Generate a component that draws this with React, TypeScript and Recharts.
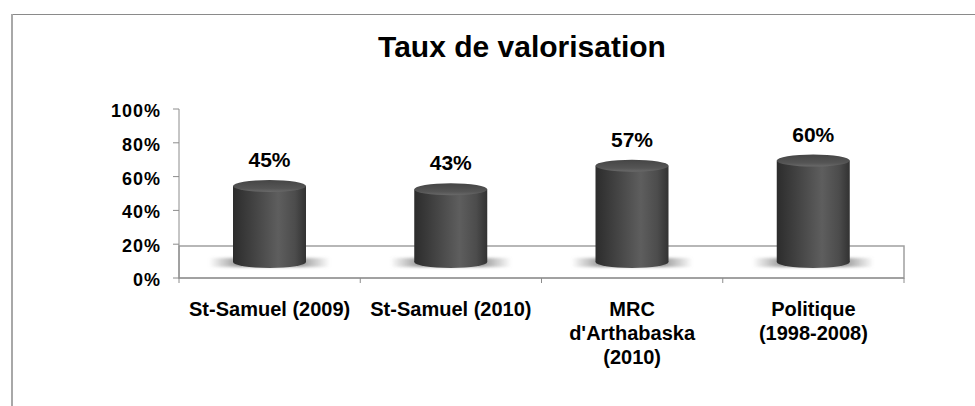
import React from 'react';
import { BarChart, Bar, XAxis, YAxis, ReferenceArea, LabelList } from 'recharts';

const title = 'Taux de valorisation';
const categories = ['St-Samuel (2009)', 'St-Samuel (2010)', "MRC\nd'Arthabaska\n(2010)", 'Politique\n(1998-2008)'];
const values = [45, 43, 57, 60];
const yTicks = [0, 20, 40, 60, 80, 100];

const data = categories.map((c, i) => ({ name: c, value: values[i] }));

const W = 975;
const H = 406;
const PLOT_LEFT = 179;
const PLOT_RIGHT = 904;
const PLOT_TOP = 109;
const PLOT_BOTTOM = 278;
const Y_AXIS_W = 80;
const X_AXIS_H = 60;
const DEPTH = 16;
const FLOOR = 19;
const FONT = '"Liberation Sans", Arial, Helvetica, sans-serif';
const AXIS_COLOR = '#8c8c8c';

function Cylinder(props: any) {
  const { x, y, width, height, index } = props;
  if (x == null || width == null) return null;
  const cx = x + width / 2;
  const rx = width / 2;
  const ry = 6;
  const top = y - DEPTH;
  const base = y + height - DEPTH;
  const id = `cyl${index}`;
  return (
    <g>
      <defs>
        <linearGradient id={`${id}body`} x1="0" x2="1" y1="0" y2="0">
          <stop offset="0" stopColor="#2c2c2c" />
          <stop offset="0.3" stopColor="#444444" />
          <stop offset="0.62" stopColor="#5e5e5e" />
          <stop offset="0.85" stopColor="#4c4c4c" />
          <stop offset="1" stopColor="#323232" />
        </linearGradient>
        <linearGradient id={`${id}top`} x1="0" x2="0" y1="0" y2="1">
          <stop offset="0" stopColor="#454545" />
          <stop offset="0.7" stopColor="#555555" />
          <stop offset="1" stopColor="#6a6a6a" />
        </linearGradient>
        <linearGradient id={`${id}shadow`} x1="0" x2="1" y1="0" y2="0">
          <stop offset="0" stopColor="#8a8a8a" stopOpacity="0" />
          <stop offset="0.25" stopColor="#8a8a8a" stopOpacity="0.9" />
          <stop offset="0.75" stopColor="#8a8a8a" stopOpacity="0.9" />
          <stop offset="1" stopColor="#8a8a8a" stopOpacity="0" />
        </linearGradient>
        <filter id={`${id}blur`} x="-20%" y="-150%" width="140%" height="400%">
          <feGaussianBlur stdDeviation="1.8" />
        </filter>
      </defs>
      <rect
        x={cx - rx - 24}
        y={base - 4}
        width={2 * rx + 48}
        height={9}
        fill={`url(#${id}shadow)`}
        filter={`url(#${id}blur)`}
      />
      <ellipse cx={cx} cy={base} rx={rx} ry={ry} fill={`url(#${id}body)`} />
      <rect x={x} y={top} width={width} height={Math.max(0, base - top)} fill={`url(#${id}body)`} />
      <ellipse cx={cx} cy={top} rx={rx} ry={ry} fill={`url(#${id}top)`} />
    </g>
  );
}

function ValueLabel(props: any) {
  const { x, y, width, value } = props;
  if (x == null) return null;
  return (
    <text
      x={x + width / 2}
      y={y - DEPTH - 19}
      textAnchor="middle"
      fontFamily={FONT}
      fontSize={21}
      fontWeight="bold"
      fill="#000"
    >
      {`${value}%`}
    </text>
  );
}

function YTick(props: any) {
  const { x, y, payload } = props;
  return (
    <text
      x={x}
      y={y}
      dy={8}
      textAnchor="end"
      fontFamily={FONT}
      fontSize={18}
      fontWeight="bold"
      letterSpacing={1}
      fill="#000"
    >
      {`${payload.value}%`}
    </text>
  );
}

function XTick(props: any) {
  const { x, payload, index } = props;
  const half = (PLOT_RIGHT - PLOT_LEFT) / categories.length / 2;
  const lines = String(payload.value).split('\n');
  return (
    <g>
      <line x1={x - half} x2={x - half} y1={PLOT_BOTTOM} y2={PLOT_BOTTOM + 5} stroke={AXIS_COLOR} />
      {index === categories.length - 1 && (
        <line x1={x + half} x2={x + half} y1={PLOT_BOTTOM} y2={PLOT_BOTTOM + 5} stroke={AXIS_COLOR} />
      )}
      <text x={x} y={PLOT_BOTTOM + 38} textAnchor="middle" fontFamily={FONT} fontSize={20} fontWeight="bold" fill="#000">
        {lines.map((l, i) => (
          <tspan key={i} x={x} dy={i === 0 ? 0 : 24}>
            {l}
          </tspan>
        ))}
      </text>
    </g>
  );
}

export default function App() {
  return (
    <div
      style={{
        position: 'absolute',
        left: 0,
        top: 0,
        width: W,
        height: H,
        overflow: 'hidden',
        background: '#fff',
      }}
    >
      <div style={{ position: 'absolute', left: 11, top: 14, width: W - 11, height: 1, background: '#8a8a8a' }} />
      <div style={{ position: 'absolute', left: 11, top: 14, width: 2, height: H - 14, background: '#a8a8a8' }} />
      <BarChart
        width={W}
        height={H}
        data={data}
        margin={{
          top: PLOT_TOP,
          right: W - PLOT_RIGHT,
          left: PLOT_LEFT - Y_AXIS_W,
          bottom: H - PLOT_BOTTOM - X_AXIS_H,
        }}
        barSize={73}
        style={{ position: 'absolute', left: 0, top: 0 }}
      >
        <text x={522} y={57} textAnchor="middle" fontFamily={FONT} fontSize={30} fontWeight="bold" fill="#000">
          {title}
        </text>
        <XAxis
          dataKey="name"
          height={X_AXIS_H}
          interval={0}
          tickLine={false}
          tickSize={5}
          tickMargin={0}
          axisLine={{ stroke: AXIS_COLOR, strokeWidth: 1 }}
          tick={<XTick />}
        />
        <YAxis
          width={Y_AXIS_W}
          domain={[0, 100]}
          ticks={yTicks}
          interval={0}
          tickSize={6}
          tickMargin={12}
          axisLine={{ stroke: AXIS_COLOR, strokeWidth: 1 }}
          tickLine={{ stroke: AXIS_COLOR }}
          tick={<YTick />}
        />
        <ReferenceArea y1={0} y2={FLOOR} fill="none" stroke="#a0a0a0" strokeWidth={1.5} ifOverflow="visible" />
        <Bar dataKey="value" shape={<Cylinder />} isAnimationActive={false}>
          <LabelList dataKey="value" content={<ValueLabel />} />
        </Bar>
      </BarChart>
    </div>
  );
}
